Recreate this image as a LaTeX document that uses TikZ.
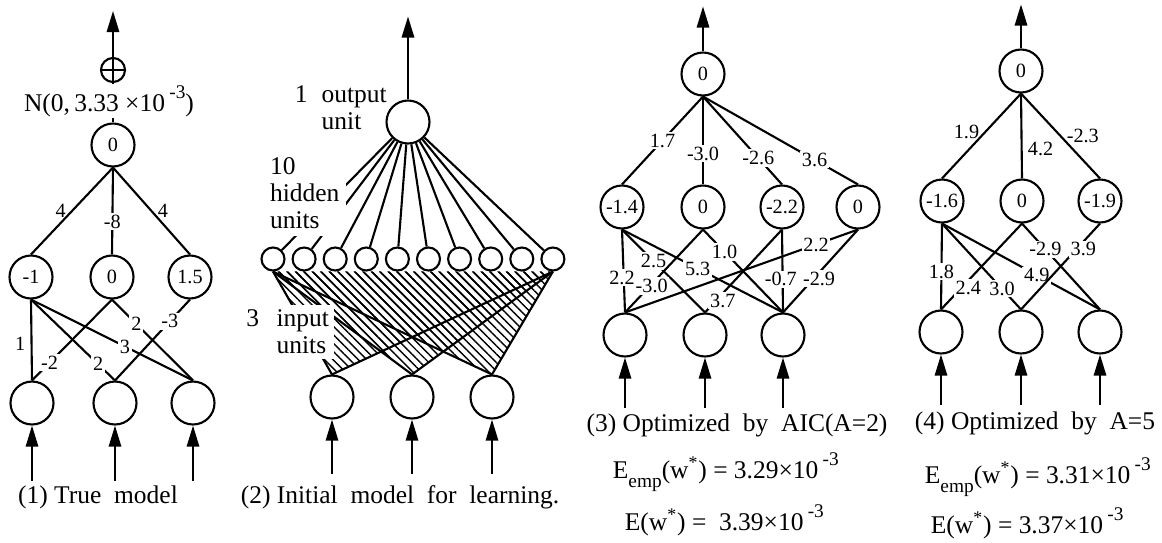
\documentclass[tikz,border=0pt]{standalone}
\usepackage{fontspec}
\setmainfont{Liberation Serif}
\usetikzlibrary{arrows.meta,patterns.meta}

\newcommand{\tenexp}{10\,\raisebox{1.1ex}{\fontsize{11}{11}\selectfont -3}}
\newcommand{\Eemp}{E\raisebox{-0.8ex}{\fontsize{11}{11}\selectfont emp}}

\begin{document}
\begin{tikzpicture}[x=0.02cm,y=-0.02cm,line width=1.2pt,>={Triangle[length=12pt,width=7pt]}]
	\tikzstyle{unit}=[draw,shape=circle,fill=white,minimum size=0.86cm,inner sep=0pt,font=\fontsize{11.5}{11.5}\selectfont]
	\tikzstyle{hid}=[draw,shape=circle,fill=white,minimum size=0.46cm,inner sep=0pt]
	\tikzstyle{w}=[fill=white,inner sep=1pt,font=\fontsize{11.5}{11.5}\selectfont]
	\tikzstyle{wn}=[inner sep=3pt,font=\fontsize{11.5}{11.5}\selectfont]
	\tikzstyle{txt}=[font=\fontsize{14.5}{15.5}\selectfont]
	\tikzstyle{hatch}=[pattern={Lines[angle=-45,distance=3.4pt,line width=0.8pt]}]

	\useasboundingbox (0,0) rectangle (1162,542);

	% (1) true model
	\node[unit](o1) at (113,145){0};
	\node[draw,shape=circle,minimum size=0.48cm,inner sep=0pt,
		path picture={\draw (path picture bounding box.north) -- (path picture bounding box.south)
			(path picture bounding box.west) -- (path picture bounding box.east);}](plus) at (113,70){};
	\draw (o1.north) -- (plus.south);
	\node[txt,fill=white,inner sep=1pt](noise) at (109,101){N(0,\,3.33 ×\tenexp)};
	\draw[->] (plus.north) -- ++(0,-46);

	\node[unit](h1-1) at (31,277){-1};
	\node[unit](h1-2) at (112,277){0};
	\node[unit](h1-3) at (190,277){1.5};
	\node[unit](i1-1) at (32,403){};
	\node[unit](i1-2) at (115,403){};
	\node[unit](i1-3) at (193,403){};

	\draw (o1.south) -- node[wn,left]{4} (h1-1.north);
	\draw (o1.south) -- node[w,pos=.62]{-8} (h1-2.north);
	\draw (o1.south) -- node[wn,right]{4} (h1-3.north);

	\draw (h1-1.south) -- node[wn,left,pos=.55]{1} (i1-1.north);
	\draw (h1-1.south) -- node[w,pos=.8]{2} (i1-2.north);
	\draw (h1-1.south) -- node[w,pos=.58]{3} (i1-3.north);
	\draw (h1-2.south) -- node[w,pos=.78]{-2} (i1-1.north);
	\draw (h1-2.south) -- node[w,pos=.3]{2} (i1-3.north);
	\draw (h1-3.south) -- node[w,pos=.27]{-3} (i1-2.north);

	\foreach \n in {1,2,3} \draw[<-] (i1-\n.south) -- ++(0,55);
	\node[txt](cap1) at (98,497){(1) True~ model};

	% (2) initial model
	\node[unit](o2) at (408,122){};
	\foreach \k in {1,...,10}
		\node[hid](h2-\k) at ({273+31.1*(\k-1)},259){};
	\node[unit](i2-1) at (332,397){};
	\node[unit](i2-2) at (412,397){};
	\node[unit](i2-3) at (492,397){};
	\draw[->] (o2.north) -- ++(0,-83);

	\foreach \n in {1,2,3}
		\fill[hatch] (h2-1.south) -- (i2-\n.north) -- (h2-10.south) -- cycle;
	\foreach \k in {1,...,10}
		\draw (o2) -- (h2-\k);
	\foreach \n in {1,2,3} {
		\draw (h2-1.south) -- (i2-\n.north);
		\draw (h2-10.south) -- (i2-\n.north);
	}

	\node[txt,align=left,anchor=west](outtxt) at (288,108){1\hspace{8pt}output\\\phantom{1}\hspace{8pt}unit};
	\node[txt,fill=white,align=left,anchor=west,inner sep=4pt](hidtxt) at (262,193){10\\hidden\\units};
	\node[txt,fill=white,align=left,anchor=west,inner sep=3pt](intxt) at (240,332){3\hspace{10pt}input\\\phantom{3}\hspace{10pt}units};

	\foreach \n in {1,2,3} \draw[<-] (i2-\n.south) -- ++(0,54);
	\node[txt](cap2) at (400,497){(2) Initial~ model~ for~ learning.};

	% (3) optimized by AIC
	\node[unit](o3) at (703,74){0};
	\node[unit](h3-1) at (622,207){-1.4};
	\node[unit](h3-2) at (703,207){0};
	\node[unit](h3-3) at (782,207){-2.2};
	\node[unit](h3-4) at (858,207){0};
	\node[unit](i3-1) at (625,335){};
	\node[unit](i3-2) at (705,335){};
	\node[unit](i3-3) at (783,335){};
	\draw[->] (o3.north) -- ++(0,-45);

	\draw (o3.south) -- node[w,pos=.5]{1.7} (h3-1.north);
	\draw (o3.south) -- node[w,pos=.65]{-3.0} (h3-2.north);
	\draw (o3.south) -- node[w,pos=.7]{-2.6} (h3-3.north);
	\draw (o3.south) -- node[w,pos=.72]{3.6} (h3-4.north);

	\draw (h3-1.south) -- node[w,pos=.58,xshift=-1pt]{2.2} (i3-1.north);
	\draw (h3-1.south) -- node[w,pos=.38]{2.5} (i3-2.north);
	\draw (h3-1.south) -- node[w,pos=.47]{5.3} (i3-3.north);
	\draw (h3-2.south) -- node[w,pos=.68,xshift=1pt]{-3.0} (i3-1.north);
	\draw (h3-2.south) -- node[w,pos=.27]{1.0} (i3-3.north);
	\draw (h3-3.south) -- node[w,pos=.86,xshift=4pt]{3.7} (i3-2.north);
	\draw (h3-4.south) -- node[w,pos=.59,xshift=3pt]{-2.9} (i3-3.north);
	\draw (h3-3.south) -- node[w,pos=.6,xshift=-1pt]{-0.7} (i3-3.north);
	\draw (h3-4.south) -- node[w,pos=.18]{2.2} (i3-1.north);

	\foreach \n in {1,2,3} \draw[<-] (i3-\n.south) -- ++(0,50);
	\node[txt](cap3) at (737,425){(3) Optimized~ by~ AIC(A=2)};
	\node[txt,anchor=west](e3a) at (606,472){\Eemp(w\textsuperscript{*}) = 3.29×\tenexp};
	\node[txt,anchor=west](e3b) at (618,520){E(w\textsuperscript{*}) = ~3.39×\tenexp};

	% (4) optimized by A=5
	\node[unit](o4) at (1021,71){0};
	\node[unit](h4-1) at (942,201){-1.6};
	\node[unit](h4-2) at (1022,201){0};
	\node[unit](h4-3) at (1100,201){-1.9};
	\node[unit](i4-1) at (941,332){};
	\node[unit](i4-2) at (1021,332){};
	\node[unit](i4-3) at (1100,332){};
	\draw[->] (o4.north) -- ++(0,-44);

	\draw (o4.south) -- node[wn,left,pos=.45]{1.9} (h4-1.north);
	\draw (o4.south) -- node[wn,right,pos=.65]{4.2} (h4-2.north);
	\draw (o4.south) -- node[wn,right,pos=.5]{-2.3} (h4-3.north);

	\draw (h4-1.south) -- node[w,pos=.56]{1.8} (i4-1.north);
	\draw (h4-1.south) -- node[w,pos=.76]{3.0} (i4-2.north);
	\draw (h4-1.south) -- node[w,pos=.6]{4.9} (i4-3.north);
	\draw (h4-2.south) -- node[w,pos=.75,xshift=4pt]{2.4} (i4-1.north);
	\draw (h4-2.south) -- node[w,pos=.3]{-2.9} (i4-3.north);
	\draw (h4-3.south) -- node[w,pos=.3,xshift=4pt]{3.9} (i4-2.north);

	\foreach \n in {1,2,3} \draw[<-] (i4-\n.south) -- ++(0,50);
	\node[txt](cap4) at (1035,423){(4) Optimized~ by~ A=5};
	\node[txt,anchor=west](e4a) at (918,477){\Eemp(w\textsuperscript{*}) = 3.31×\tenexp};
	\node[txt,anchor=west](e4b) at (924,523){E(w\textsuperscript{*}) = 3.37×\tenexp};
\end{tikzpicture}
\end{document}
